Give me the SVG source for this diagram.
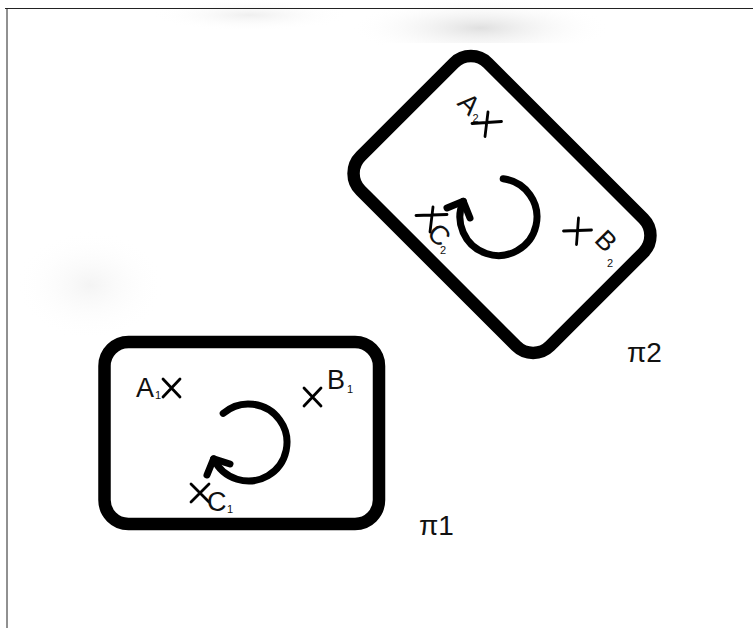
<svg xmlns="http://www.w3.org/2000/svg" width="753" height="628" viewBox="0 0 753 628">
  <defs>
    <radialGradient id="smudge">
      <stop offset="0" stop-color="#dcdcdc" stop-opacity="0.9"/>
      <stop offset="1" stop-color="#ffffff" stop-opacity="0"/>
    </radialGradient>
    <style>
      .frame { fill: none; stroke: #000; stroke-width: 12.5; }
      .arc { fill: none; stroke: #000; stroke-width: 7; stroke-linecap: round; stroke-linejoin: round; }
      .mark { fill: none; stroke: #000; stroke-width: 2.8; stroke-linecap: round; }
      .lbl { font-family: "Liberation Sans", Arial, sans-serif; font-size: 27px; fill: #111; }
      .sub { font-family: "Liberation Sans", Arial, sans-serif; font-size: 11px; fill: #111; }
      .pi { font-family: "Liberation Sans", Arial, sans-serif; font-size: 28px; fill: #111; }
    </style>
  </defs>
  <rect x="0" y="0" width="753" height="628" fill="#ffffff"/>
  <!-- background smudges -->
  <ellipse cx="480" cy="28" rx="130" ry="30" fill="url(#smudge)"/>
  <ellipse cx="250" cy="15" rx="100" ry="16" fill="url(#smudge)" opacity="0.5"/>
  <ellipse cx="90" cy="285" rx="75" ry="55" fill="url(#smudge)" opacity="0.35"/>
  <polygon points="385,43 753,43 753,120 360,120" fill="#ffffff"/>
  <!-- crop border -->
  <line x1="5" y1="8.5" x2="753" y2="8.5" stroke="#222" stroke-width="1"/>
  <line x1="7" y1="8" x2="7" y2="628" stroke="#222" stroke-width="1"/>

  <g id="pi1-plane">
    <rect class="frame" x="104.5" y="342" width="274.5" height="182" rx="24"/>
    <path class="arc" d="M223.2,413.4 A38.5,38.5 0 1 1 213.6,458.8"/>
    <path class="arc" d="M207,475 L213.6,458.8 L230,464"/>
    <g id="A1">
      <path class="mark" d="M163,379 L180,397 M180,379 L163,397"/>
      <text class="lbl" x="136" y="397">A</text>
      <text class="sub" x="155" y="399">1</text>
    </g>
    <g id="B1">
      <path class="mark" d="M304,388 L321,406 M321,388 L304,406"/>
      <text class="lbl" x="327" y="389">B</text>
      <text class="sub" x="347" y="393">1</text>
    </g>
    <g id="C1">
      <path class="mark" d="M191,484 L209,502 M209,484 L191,502"/>
      <text class="lbl" x="207" y="511">C</text>
      <text class="sub" x="227" y="513">1</text>
    </g>
    <text class="pi" x="419" y="535">π1</text>
  </g>

  <g id="pi2-plane">
    <rect class="frame" x="-134" y="-90" width="268" height="180" rx="24" transform="translate(502,204.5) rotate(45)"/>
    <path class="arc" d="M503.2,178.8 A38.5,38.5 0 1 1 463.3,201.3"/>
    <path class="arc" d="M447,208 L463.3,201.3 L470,218"/>
    <g id="A2">
      <path class="mark" d="M472,123.5 L501.5,121.5 M488,112 L485,136.5"/>
      <text class="lbl" x="469" y="104" text-anchor="middle" dominant-baseline="central" transform="rotate(45 469 104)">A</text>
      <text class="sub" x="472.5" y="122">2</text>
    </g>
    <g id="C2">
      <path class="mark" d="M416,215.5 L447,214.5 M433,207 L430,232"/>
      <text class="lbl" x="439" y="235" text-anchor="middle" dominant-baseline="central" transform="rotate(45 439 235)">C</text>
      <text class="sub" x="440" y="254">2</text>
    </g>
    <g id="B2">
      <path class="mark" d="M563.5,231 L591.5,230 M578.5,218 L576.5,244.5"/>
      <text class="lbl" x="606" y="241" text-anchor="middle" dominant-baseline="central" transform="rotate(45 606 241)">B</text>
      <text class="sub" x="607" y="267">2</text>
    </g>
    <text class="pi" x="627" y="362">π2</text>
  </g>
</svg>
